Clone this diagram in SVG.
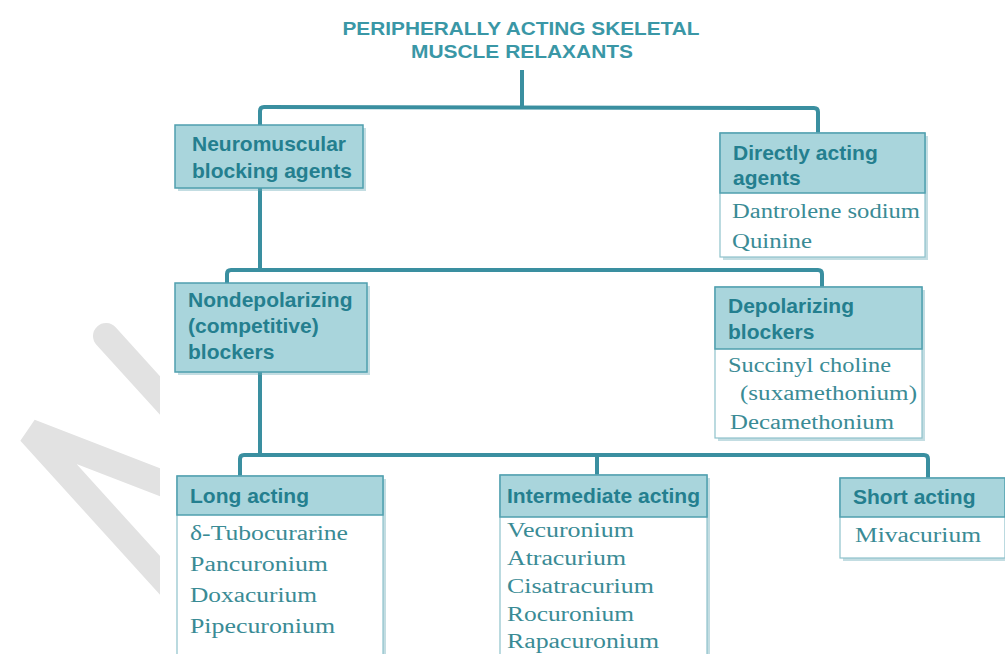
<svg xmlns="http://www.w3.org/2000/svg" width="1005" height="654" viewBox="0 0 1005 654">
  <style>
    .title { font-family: "Liberation Sans", Arial, sans-serif; font-weight: bold; font-size: 18px; fill: #3a97a6; }
    .head { font-family: "Liberation Sans", Arial, sans-serif; font-weight: bold; font-size: 21px; fill: #247f8f; }
    .item { font-family: "Liberation Serif", "Times New Roman", serif; font-size: 20px; fill: #3a8b95; }
    .hbox { fill: #a9d5dc; stroke: #4f9fae; stroke-width: 1.5; }
    .body { fill: #ffffff; stroke: #8ec2cb; stroke-width: 1.2; }
    .shadow { fill: #6aaab6; opacity: 0.4; }
    .link { fill: none; stroke: #3a8fa0; stroke-width: 4; stroke-linejoin: round; }
  </style>
  <defs>
    <clipPath id="markClip"><rect x="0" y="0" width="160" height="654"/></clipPath>
  </defs>

  <rect width="1005" height="654" fill="#ffffff"/>

  <!-- light grey mark at the left edge -->
  <g clip-path="url(#markClip)" stroke="#e2e2e2" stroke-width="26" stroke-linecap="round" fill="none">
    <path d="M106,336 L175,412"/>
    <path d="M175,488 L30,432 L175,592"/>
  </g>

  <!-- title -->
  <g id="title">
    <text class="title" x="521" y="35" text-anchor="middle" textLength="357" lengthAdjust="spacingAndGlyphs">PERIPHERALLY ACTING SKELETAL</text>
    <text class="title" x="522" y="58" text-anchor="middle" textLength="222" lengthAdjust="spacingAndGlyphs">MUSCLE RELAXANTS</text>
  </g>

  <!-- connectors -->
  <g id="connectors">
    <path class="link" d="M522,70 L522,107"/>
    <path class="link" d="M260,125 L260,111 Q260,107 264,107 L814,108 Q818,108 818,112 L818,133"/>
    <path class="link" d="M260,188 L260,270"/>
    <path class="link" d="M227,283 L227,274 Q227,270 231,270 L818,270 Q822,270 822,274 L822,287"/>
    <path class="link" d="M260,372 L260,455"/>
    <path class="link" d="M240,476 L240,459 Q240,455 244,455 L924,455 Q928,455 928,459 L928,478"/>
    <path class="link" d="M597,455 L597,475"/>
  </g>

  <!-- Neuromuscular blocking agents -->
  <g id="neuromuscular">
    <rect class="shadow" x="178" y="128" width="188" height="63"/>
    <rect class="hbox" x="175" y="125" width="188" height="63"/>
    <text class="head" x="192" y="151">Neuromuscular</text>
    <text class="head" x="192" y="178">blocking agents</text>
  </g>

  <!-- Directly acting agents -->
  <g id="directly-acting">
    <rect class="shadow" x="723" y="136" width="205" height="124"/>
    <rect class="body" x="720" y="133" width="205" height="124"/>
    <rect class="hbox" x="720" y="133" width="205" height="60"/>
    <text class="head" x="733" y="160">Directly acting</text>
    <text class="head" x="733" y="185">agents</text>
    <text class="item" x="732" y="218" textLength="188" lengthAdjust="spacingAndGlyphs">Dantrolene sodium</text>
    <text class="item" x="732" y="248" textLength="80" lengthAdjust="spacingAndGlyphs">Quinine</text>
  </g>

  <!-- Nondepolarizing (competitive) blockers -->
  <g id="nondepolarizing">
    <rect class="shadow" x="178" y="286" width="192" height="89"/>
    <rect class="hbox" x="175" y="283" width="192" height="89"/>
    <text class="head" x="188" y="307">Nondepolarizing</text>
    <text class="head" x="188" y="333">(competitive)</text>
    <text class="head" x="188" y="359">blockers</text>
  </g>

  <!-- Depolarizing blockers -->
  <g id="depolarizing">
    <rect class="shadow" x="718" y="290" width="207" height="151"/>
    <rect class="body" x="715" y="287" width="207" height="151"/>
    <rect class="hbox" x="715" y="287" width="207" height="62"/>
    <text class="head" x="728" y="313">Depolarizing</text>
    <text class="head" x="728" y="339">blockers</text>
    <text class="item" x="728" y="372" textLength="163" lengthAdjust="spacingAndGlyphs">Succinyl choline</text>
    <text class="item" x="740" y="400" textLength="177" lengthAdjust="spacingAndGlyphs">(suxamethonium)</text>
    <text class="item" x="730" y="429" textLength="164" lengthAdjust="spacingAndGlyphs">Decamethonium</text>
  </g>

  <!-- Long acting -->
  <g id="long-acting">
    <rect class="shadow" x="180" y="479" width="206" height="190"/>
    <rect class="body" x="177" y="476" width="206" height="190"/>
    <rect class="hbox" x="177" y="476" width="206" height="39"/>
    <text class="head" x="190" y="503">Long acting</text>
    <text class="item" x="190" y="540" textLength="158" lengthAdjust="spacingAndGlyphs">δ-Tubocurarine</text>
    <text class="item" x="190" y="571" textLength="138" lengthAdjust="spacingAndGlyphs">Pancuronium</text>
    <text class="item" x="190" y="602" textLength="127" lengthAdjust="spacingAndGlyphs">Doxacurium</text>
    <text class="item" x="190" y="633" textLength="145" lengthAdjust="spacingAndGlyphs">Pipecuronium</text>
  </g>

  <!-- Intermediate acting -->
  <g id="intermediate-acting">
    <rect class="shadow" x="503" y="478" width="207" height="190"/>
    <rect class="body" x="500" y="475" width="207" height="190"/>
    <rect class="hbox" x="500" y="475" width="207" height="42"/>
    <text class="head" x="507" y="503" textLength="193" lengthAdjust="spacingAndGlyphs">Intermediate acting</text>
    <text class="item" x="507" y="537" textLength="127" lengthAdjust="spacingAndGlyphs">Vecuronium</text>
    <text class="item" x="507" y="565" textLength="119" lengthAdjust="spacingAndGlyphs">Atracurium</text>
    <text class="item" x="507" y="593" textLength="147" lengthAdjust="spacingAndGlyphs">Cisatracurium</text>
    <text class="item" x="507" y="621" textLength="127" lengthAdjust="spacingAndGlyphs">Rocuronium</text>
    <text class="item" x="507" y="648" textLength="152" lengthAdjust="spacingAndGlyphs">Rapacuronium</text>
  </g>

  <!-- Short acting -->
  <g id="short-acting">
    <rect class="shadow" x="843" y="481" width="165" height="80"/>
    <rect class="body" x="840" y="478" width="165" height="80"/>
    <rect class="hbox" x="840" y="478" width="165" height="39"/>
    <text class="head" x="853" y="504">Short acting</text>
    <text class="item" x="855" y="542" textLength="126" lengthAdjust="spacingAndGlyphs">Mivacurium</text>
  </g>
</svg>
